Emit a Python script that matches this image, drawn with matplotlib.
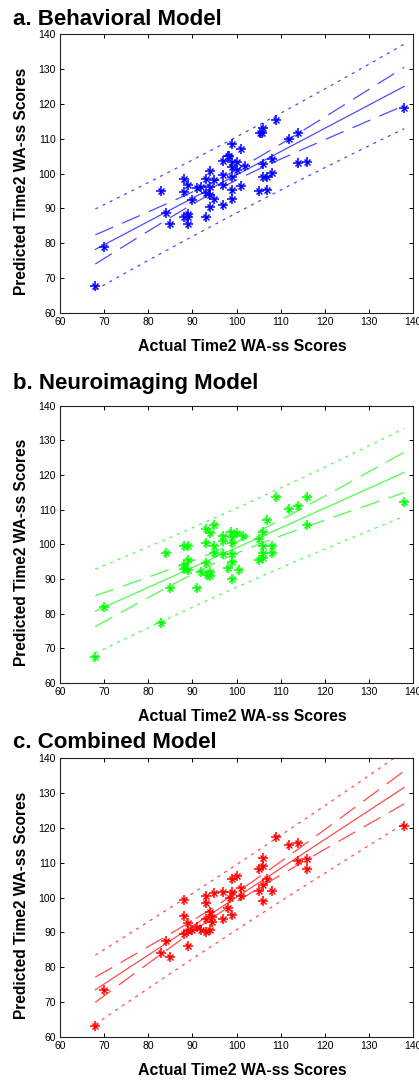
import numpy as np
import matplotlib.pyplot as plt

plt.rcParams['lines.scale_dashes'] = False

# a. Behavioral model
beh_actual = [68, 70, 83, 84, 85, 88, 88, 88, 89, 89, 89, 89, 90, 91, 92, 93, 93, 93,
              94, 94, 94, 94, 95, 95, 97, 97, 97, 97, 98, 98.3, 99, 99, 99, 99, 99, 99,
              100, 100, 101, 101, 102, 105, 105.3, 105.8, 106, 106, 106, 106.8, 107,
              108, 108, 109, 112, 114, 114, 116, 138]
beh_pred = [67.7, 78.8, 94.9, 88.7, 85.5, 98.5, 94.7, 87.4, 96.8, 88.5, 87.6, 85.5, 92.3,
            95.7, 96.2, 98.5, 94.3, 87.4, 100.8, 96.2, 93.8, 90.4, 98.1, 92.6, 103.5, 99.5,
            96.8, 90.9, 105.0, 105.0, 108.4, 103.3, 101.9, 99.0, 95.4, 92.6, 103.2, 101.0,
            106.9, 96.4, 102.1, 94.9, 111.5, 111.5, 113.1, 102.7, 99.0, 99.0, 95.4, 104.3,
            100.2, 115.3, 110.0, 111.5, 102.9, 103.2, 118.7]

# b. Neuroimaging model
neuro_actual = [68, 70, 83, 84, 85, 88, 89, 88, 88, 89, 89, 91, 92, 93, 93, 93, 93.3,
                94, 94, 94, 95, 95, 95, 97, 97, 97, 98, 98.8, 99, 99, 99, 99, 99, 100,
                100.5, 101.5, 105, 105, 106, 106, 106, 106, 107, 108, 108, 109, 112, 114,
                116, 116, 138]
neuro_pred = [67.6, 81.8, 77.3, 97.4, 87.3, 99.5, 99.5, 94.0, 92.8, 95.4, 92.7, 87.3, 91.9,
              104.3, 100.5, 94.5, 91.1, 103.4, 92.1, 91.0, 105.5, 99.5, 97.5, 102.4, 101.0,
              97.1, 93.3, 103.5, 102.0, 100.4, 97.1, 94.8, 89.9, 103.2, 92.7, 102.4, 101.4,
              95.4, 103.5, 99.5, 97.6, 96.2, 107.0, 99.5, 97.4, 113.6, 110.1, 111.0, 113.6,
              105.5, 112.2]

# c. Combined model
comb_actual = [68, 70, 83, 84, 85, 88, 88, 88, 89, 89, 89, 90, 91, 92, 93, 93, 93, 93,
               94, 94.5, 94.5, 94, 95, 97, 97, 98, 99, 99, 98.6, 99, 100, 101, 101, 105,
               105, 106, 106, 106, 106, 107, 108, 109, 112, 114, 114, 116, 116, 138]
comb_pred = [63.2, 73.5, 84.1, 87.4, 82.9, 99.2, 94.8, 89.6, 92.7, 90.3, 86.2, 90.8, 91.5,
             90.8, 100.4, 98.5, 93.7, 90.2, 95.8, 94.5, 93.0, 90.6, 101.2, 101.5, 93.7,
             97.0, 105.2, 101.5, 99.9, 95.1, 106.3, 102.8, 100.4, 108.3, 101.8, 109.0,
             111.4, 103.7, 99.1, 105.2, 101.8, 117.4, 115.0, 115.6, 110.5, 110.9, 108.3,
             120.4]

titles = ['a. Behavioral Model', 'b. Neuroimaging Model', 'c. Combined Model']
colors = ['blue', '#00ff00', 'red']
ticks = [60, 70, 80, 90, 100, 110, 120, 130, 140]
t_crit = 2.01

fig = plt.figure(figsize=(4.19, 10.82), dpi=100)
W, H = 419.0, 1082.0
# axes boxes in pixels: (top, bottom), title baseline
boxes = [(34, 313, 25), (405.7, 683, 389), (758, 1037, 748)]
data = [(beh_actual, beh_pred), (neuro_actual, neuro_pred), (comb_actual, comb_pred)]
tick_font = ['Liberation Sans Narrow', 'Liberation Sans', 'DejaVu Sans']
label_font = ['Liberation Sans', 'DejaVu Sans']

for (top, bot, tb), (xs, ys), title, col in zip(boxes, data, titles, colors):
    ax = fig.add_axes([60 / W, 1 - bot / H, 353 / W, (bot - top) / H])
    x = np.array(xs)
    y = np.array(ys)

    # regression line with confidence and prediction bands
    b1, b0 = np.polyfit(x, y, 1)
    n = len(x)
    resid = y - (b0 + b1 * x)
    s = np.sqrt(np.sum(resid ** 2) / (n - 2))
    sxx = np.sum((x - x.mean()) ** 2)
    xl = np.linspace(x.min(), x.max(), 100)
    yl = b0 + b1 * xl
    ci = t_crit * s * np.sqrt(1 / n + (xl - x.mean()) ** 2 / sxx)
    pi = t_crit * s * np.sqrt(1 + 1 / n + (xl - x.mean()) ** 2 / sxx)

    ax.plot(xl, yl, color=col, lw=0.9, alpha=0.7)
    ax.plot(xl, yl + ci, color=col, lw=0.9, alpha=0.7, dashes=(14, 7))
    ax.plot(xl, yl - ci, color=col, lw=0.9, alpha=0.7, dashes=(14, 7))
    ax.plot(xl, yl + pi, color=col, lw=0.9, alpha=0.7, dashes=(2.2, 3.6))
    ax.plot(xl, yl - pi, color=col, lw=0.9, alpha=0.7, dashes=(2.2, 3.6))
    # matlab-style '*' marker: plus + cross
    ax.plot(x, y, ls='none', marker='+', ms=7, mew=1.1, color=col)
    ax.plot(x, y, ls='none', marker='x', ms=4, mew=1.0, color=col)

    ax.set_xlim(60, 140)
    ax.set_ylim(60, 140)
    ax.set_xticks(ticks)
    ax.set_yticks(ticks)
    ax.tick_params(direction='in', top=True, right=True, length=3, width=0.7,
                   labelsize=7.5, pad=3)
    for lab in ax.get_xticklabels() + ax.get_yticklabels():
        lab.set_family(tick_font)
    for sp in ax.spines.values():
        sp.set_linewidth(0.8)
        sp.set_color('#222222')

    ax.set_xlabel('Actual Time2 WA-ss Scores', fontsize=11.4, fontweight='bold',
                  family=label_font)
    ax.set_ylabel('Predicted Time2 WA-ss Scores', fontsize=11.2, fontweight='bold',
                  family=label_font)
    ax.xaxis.set_label_coords(0.516, -26 / (bot - top))
    ax.yaxis.set_label_coords(-31 / 353, 0.47)
    fig.text(13 / W, 1 - tb / H, title, fontsize=16, fontweight='bold',
             family=label_font, ha='left', va='baseline')

fig.savefig('out.png', dpi=100)
